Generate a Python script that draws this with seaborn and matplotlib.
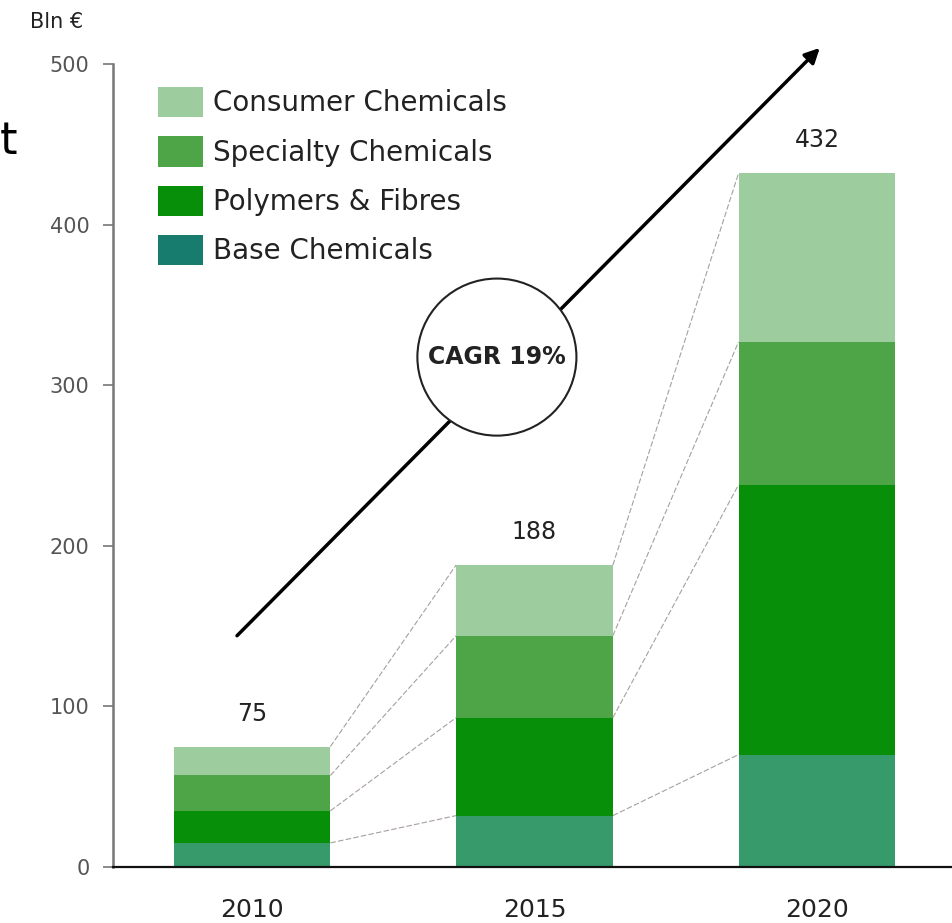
import matplotlib
matplotlib.use("Agg")
import matplotlib.pyplot as plt
import seaborn as sns
import numpy as np
import pandas as pd
from matplotlib.patches import Ellipse, Patch

# ---- data ----
years = ["2010", "2015", "2020"]
base_chem = [15, 32, 70]
polymers = [20, 61, 168]
specialty = [22, 51, 89]
consumer = [18, 44, 105]
totals = [75, 188, 432]
segment_names = ["Consumer Chemicals", "Specialty Chemicals", "Polymers & Fibres", "Base Chemicals"]
y_ticks = [0, 100, 200, 300, 400, 500]
y_unit = "Bln \u20ac"
cagr_text = "CAGR 19%"

bar_colors = {"Consumer Chemicals": "#9dcc9f", "Specialty Chemicals": "#4ea547",
              "Polymers & Fibres": "#078f0a", "Base Chemicals": "#379a6b"}
legend_colors = {"Consumer Chemicals": "#9dcc9f", "Specialty Chemicals": "#4ea547",
                 "Polymers & Fibres": "#078f0a", "Base Chemicals": "#177b6d"}

sns.set_style("white")
plt.rcParams["font.family"] = ["DejaVu Sans"]

fig = plt.figure(figsize=(9.52, 9.23), dpi=100)
ax = fig.add_axes([113 / 952, 56 / 923, 839 / 952, 803 / 923])

cum1 = np.array(base_chem)
cum2 = cum1 + np.array(polymers)
cum3 = cum2 + np.array(specialty)
cum4 = cum3 + np.array(consumer)
levels = [cum1, cum2, cum3, cum4]

W = 0.555
for vals, name in [(cum4, "Consumer Chemicals"), (cum3, "Specialty Chemicals"),
                   (cum2, "Polymers & Fibres"), (cum1, "Base Chemicals")]:
    df = pd.DataFrame({"year": years, "value": vals})
    sns.barplot(data=df, x="year", y="value", order=years, color=bar_colors[name],
                saturation=1, width=W, errorbar=None, ax=ax, linewidth=0, zorder=2)

# connector lines
for i in range(len(years) - 1):
    for lv in levels:
        ax.plot([i + W / 2, i + 1 - W / 2], [lv[i], lv[i + 1]], color="#a89f9f",
                lw=0.8, ls=(0, (5, 2)), zorder=1)

# value labels
for i, t in enumerate(totals):
    ax.annotate(str(t), (i, t), xytext=(0, 15), textcoords="offset points",
                ha="center", va="bottom", fontsize=17, color="#222222")

# arrow
ax.annotate("", xy=(2.01, 510), xytext=(-0.053, 144),
            arrowprops=dict(arrowstyle="-|>", lw=2.5, color="black", mutation_scale=22,
                            shrinkA=0, shrinkB=0),
            annotation_clip=False, zorder=3)

# CAGR circle
ell = Ellipse((0.867, 317.5), width=0.563, height=97.8, facecolor="white",
              edgecolor="#222222", lw=1.5, zorder=4, clip_on=False)
ax.add_patch(ell)
ax.text(0.867, 317.5, cagr_text, ha="center", va="center", fontsize=17,
        fontweight="bold", color="#222222", zorder=5)

ax.set_xlim(-0.492, 2.478)
ax.set_ylim(0, 500)
ax.set_yticks(y_ticks)
ax.set_xlabel("")
ax.set_ylabel("")
ax.tick_params(axis="y", length=7, width=1.2, color="#777777", labelsize=15,
               labelcolor="#555555", pad=10, left=True)
ax.tick_params(axis="x", length=0, labelsize=18, labelcolor="#222222", pad=22)
for s in ["top", "right"]:
    ax.spines[s].set_visible(False)
ax.spines["left"].set_color("#777777")
ax.spines["left"].set_linewidth(1.8)
ax.spines["bottom"].set_color("#111111")
ax.spines["bottom"].set_linewidth(1.6)
ax.spines["bottom"].set_zorder(6)

handles = [Patch(facecolor=legend_colors[n], edgecolor="none", label=n) for n in segment_names]
leg = ax.legend(handles=handles, loc="upper left", bbox_to_anchor=(158 / 952, 1 - 87 / 923),
                bbox_transform=fig.transFigure, frameon=False, fontsize=20,
                handlelength=1.62, handleheight=1.3, handletextpad=0.36,
                labelspacing=0.68, borderpad=0, borderaxespad=0)
for txt in leg.get_texts():
    txt.set_color("#222222")

fig.text(57 / 952, 1 - 22 / 923, y_unit, ha="center", va="center", fontsize=15, color="#222222")
fig.text(0.0, 1 - 142 / 923, "t", ha="left", va="center", fontsize=32, color="black")

fig.savefig("out.png", dpi=100)
